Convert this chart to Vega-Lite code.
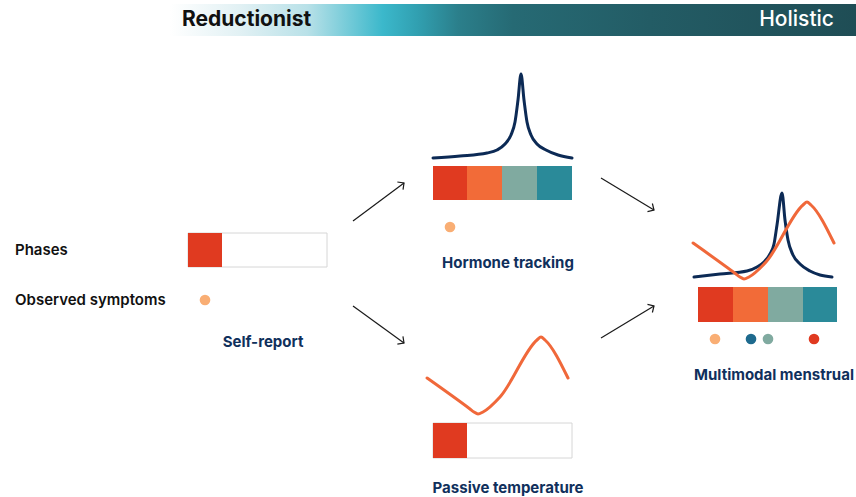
{
  "$schema": "https://vega.github.io/schema/vega-lite/v6.json",
  "width": 856,
  "height": 497,
  "padding": 0,
  "autosize": {"type": "fit", "contains": "padding"},
  "background": "white",
  "config": {"view": {"stroke": null}, "font": "Inter"},
  "resolve": {"scale": {"color": "independent"}},
  "datasets": {
    "header": [{"x": 170, "x2": 856, "y": 4, "y2": 36}],
    "frames": [
      {"panel": "Self-report", "x": 188, "x2": 327, "y": 233, "y2": 267},
      {"panel": "Passive temperature", "x": 433, "x2": 572, "y": 423, "y2": 458}
    ],
    "phases": [
      {"panel": "Self-report", "phase": "Menstrual", "x": 188, "x2": 222, "y": 233, "y2": 267},
      {"panel": "Hormone tracking", "phase": "Menstrual", "x": 433, "x2": 467, "y": 166, "y2": 200},
      {"panel": "Hormone tracking", "phase": "Follicular", "x": 467, "x2": 502, "y": 166, "y2": 200},
      {"panel": "Hormone tracking", "phase": "Ovulatory", "x": 502, "x2": 537, "y": 166, "y2": 200},
      {"panel": "Hormone tracking", "phase": "Luteal", "x": 537, "x2": 572, "y": 166, "y2": 200},
      {"panel": "Passive temperature", "phase": "Menstrual", "x": 433, "x2": 467, "y": 423, "y2": 458},
      {"panel": "Multimodal menstrual", "phase": "Menstrual", "x": 698, "x2": 733, "y": 287, "y2": 322},
      {"panel": "Multimodal menstrual", "phase": "Follicular", "x": 733, "x2": 768, "y": 287, "y2": 322},
      {"panel": "Multimodal menstrual", "phase": "Ovulatory", "x": 768, "x2": 803, "y": 287, "y2": 322},
      {"panel": "Multimodal menstrual", "phase": "Luteal", "x": 803, "x2": 837, "y": 287, "y2": 322}
    ],
    "symptoms": [
      {"panel": "Self-report", "symptom": "A", "x": 205, "y": 300},
      {"panel": "Hormone tracking", "symptom": "A", "x": 450, "y": 227},
      {"panel": "Multimodal menstrual", "symptom": "A", "x": 715, "y": 339},
      {"panel": "Multimodal menstrual", "symptom": "B", "x": 751, "y": 339},
      {"panel": "Multimodal menstrual", "symptom": "C", "x": 768, "y": 339},
      {"panel": "Multimodal menstrual", "symptom": "D", "x": 814, "y": 339}
    ],
    "curves": [
      {"series": "h1", "kind": "hormone", "x": 433, "y": 158},
      {"series": "h1", "kind": "hormone", "x": 460, "y": 156},
      {"series": "h1", "kind": "hormone", "x": 487, "y": 153},
      {"series": "h1", "kind": "hormone", "x": 497, "y": 150},
      {"series": "h1", "kind": "hormone", "x": 505, "y": 144},
      {"series": "h1", "kind": "hormone", "x": 511, "y": 135},
      {"series": "h1", "kind": "hormone", "x": 515, "y": 122},
      {"series": "h1", "kind": "hormone", "x": 518, "y": 100},
      {"series": "h1", "kind": "hormone", "x": 521, "y": 74},
      {"series": "h1", "kind": "hormone", "x": 524, "y": 100},
      {"series": "h1", "kind": "hormone", "x": 527, "y": 122},
      {"series": "h1", "kind": "hormone", "x": 531, "y": 135},
      {"series": "h1", "kind": "hormone", "x": 537, "y": 144},
      {"series": "h1", "kind": "hormone", "x": 546, "y": 150},
      {"series": "h1", "kind": "hormone", "x": 558, "y": 155},
      {"series": "h1", "kind": "hormone", "x": 572, "y": 158},
      {"series": "h2", "kind": "hormone", "x": 694, "y": 277},
      {"series": "h2", "kind": "hormone", "x": 720, "y": 274},
      {"series": "h2", "kind": "hormone", "x": 747, "y": 271},
      {"series": "h2", "kind": "hormone", "x": 757, "y": 267},
      {"series": "h2", "kind": "hormone", "x": 764, "y": 262},
      {"series": "h2", "kind": "hormone", "x": 770, "y": 254},
      {"series": "h2", "kind": "hormone", "x": 774, "y": 244},
      {"series": "h2", "kind": "hormone", "x": 777, "y": 225},
      {"series": "h2", "kind": "hormone", "x": 782, "y": 193},
      {"series": "h2", "kind": "hormone", "x": 785, "y": 220},
      {"series": "h2", "kind": "hormone", "x": 788, "y": 240},
      {"series": "h2", "kind": "hormone", "x": 793, "y": 255},
      {"series": "h2", "kind": "hormone", "x": 800, "y": 264},
      {"series": "h2", "kind": "hormone", "x": 810, "y": 271},
      {"series": "h2", "kind": "hormone", "x": 820, "y": 275},
      {"series": "h2", "kind": "hormone", "x": 832, "y": 277},
      {"series": "t1", "kind": "temperature", "x": 427, "y": 378},
      {"series": "t1", "kind": "temperature", "x": 470, "y": 409},
      {"series": "t1", "kind": "temperature", "x": 474, "y": 412},
      {"series": "t1", "kind": "temperature", "x": 478, "y": 414},
      {"series": "t1", "kind": "temperature", "x": 483, "y": 412},
      {"series": "t1", "kind": "temperature", "x": 500, "y": 397},
      {"series": "t1", "kind": "temperature", "x": 537, "y": 340},
      {"series": "t1", "kind": "temperature", "x": 541, "y": 337},
      {"series": "t1", "kind": "temperature", "x": 545, "y": 340},
      {"series": "t1", "kind": "temperature", "x": 568, "y": 378},
      {"series": "t2", "kind": "temperature", "x": 693, "y": 243},
      {"series": "t2", "kind": "temperature", "x": 736, "y": 274},
      {"series": "t2", "kind": "temperature", "x": 740, "y": 277},
      {"series": "t2", "kind": "temperature", "x": 744, "y": 279},
      {"series": "t2", "kind": "temperature", "x": 749, "y": 277},
      {"series": "t2", "kind": "temperature", "x": 766, "y": 262},
      {"series": "t2", "kind": "temperature", "x": 803, "y": 205},
      {"series": "t2", "kind": "temperature", "x": 807, "y": 202},
      {"series": "t2", "kind": "temperature", "x": 811, "y": 205},
      {"series": "t2", "kind": "temperature", "x": 834, "y": 243}
    ],
    "arrows": [
      {"x": 353, "y": 221, "x2": 404, "y2": 183},
      {"x": 353, "y": 306, "x2": 404, "y2": 343},
      {"x": 601, "y": 178, "x2": 654, "y2": 210},
      {"x": 601, "y": 338, "x2": 654, "y2": 306}
    ],
    "labels": [
      {"text": "Reductionist", "role": "headLeft", "x": 182, "y": 20},
      {"text": "Holistic", "role": "headRight", "x": 834, "y": 20},
      {"text": "Phases", "role": "legend", "x": 15, "y": 250},
      {"text": "Observed symptoms", "role": "legend", "x": 15, "y": 300},
      {"text": "Self-report", "role": "caption", "x": 263, "y": 342},
      {"text": "Hormone tracking", "role": "caption", "x": 508, "y": 263},
      {"text": "Passive temperature", "role": "caption", "x": 508, "y": 488},
      {"text": "Multimodal menstrual", "role": "caption", "x": 774, "y": 375}
    ]
  },
  "encoding": {
    "x": {"field": "x", "type": "quantitative", "scale": {"domain": [0, 856], "nice": false, "zero": false}, "axis": null},
    "y": {"field": "y", "type": "quantitative", "scale": {"domain": [0, 497], "nice": false, "zero": false, "reverse": true}, "axis": null}
  },
  "layer": [
    {
      "data": {"name": "header"},
      "mark": {"type": "rect", "color": {"gradient": "linear", "x1": 0, "y1": 0, "x2": 1, "y2": 0, "stops": [
        {"offset": 0, "color": "#ffffff"},
        {"offset": 0.1, "color": "#e2f1f4"},
        {"offset": 0.2, "color": "#b9e1e8"},
        {"offset": 0.31, "color": "#3bb8cb"},
        {"offset": 0.36, "color": "#31a0b1"},
        {"offset": 0.42, "color": "#2b7f8b"},
        {"offset": 0.5, "color": "#266a74"},
        {"offset": 0.7, "color": "#235c65"},
        {"offset": 1, "color": "#1f4d55"}
      ]}},
      "encoding": {"x2": {"field": "x2"}, "y2": {"field": "y2"}}
    },
    {
      "data": {"name": "frames"},
      "mark": {"type": "rect", "fill": "white", "stroke": "#d6d6d6", "strokeWidth": 1},
      "encoding": {"x2": {"field": "x2"}, "y2": {"field": "y2"}}
    },
    {
      "data": {"name": "phases"},
      "mark": {"type": "rect"},
      "encoding": {
        "x2": {"field": "x2"},
        "y2": {"field": "y2"},
        "color": {"field": "phase", "type": "nominal", "legend": null,
          "scale": {"domain": ["Menstrual", "Follicular", "Ovulatory", "Luteal"], "range": ["#e03a20", "#f26b38", "#80aaa0", "#2a8a99"]}}
      }
    },
    {
      "data": {"name": "symptoms"},
      "mark": {"type": "circle", "size": 113, "opacity": 1},
      "encoding": {
        "color": {"field": "symptom", "type": "nominal", "legend": null,
          "scale": {"domain": ["A", "B", "C", "D"], "range": ["#f9ae74", "#1e6a8e", "#80aaa0", "#e03a20"]}}
      }
    },
    {
      "data": {"name": "curves"},
      "transform": [{"filter": "datum.kind === 'hormone'"}],
      "mark": {"type": "line", "color": "#0c2a55", "strokeWidth": 3, "interpolate": "monotone", "strokeCap": "round", "strokeJoin": "round"},
      "encoding": {"detail": {"field": "series"}}
    },
    {
      "data": {"name": "curves"},
      "transform": [{"filter": "datum.kind === 'temperature'"}],
      "mark": {"type": "line", "color": "#f0683a", "strokeWidth": 3, "interpolate": "monotone", "strokeCap": "round", "strokeJoin": "round"},
      "encoding": {"detail": {"field": "series"}}
    },
    {
      "data": {"name": "arrows"},
      "mark": {"type": "rule", "color": "#1a1a1a", "strokeWidth": 1.2},
      "encoding": {"x2": {"field": "x2"}, "y2": {"field": "y2"}}
    },
    {
      "data": {"name": "arrows"},
      "transform": [{"calculate": "atan2(datum.y2 - datum.y, datum.x2 - datum.x) * 180 / PI", "as": "heading"}],
      "mark": {"type": "point", "shape": "M-1,-1L0,0L-1,1", "filled": false, "stroke": "#1a1a1a", "strokeWidth": 1.2, "size": 90, "opacity": 1},
      "encoding": {
        "x": {"field": "x2", "type": "quantitative"},
        "y": {"field": "y2", "type": "quantitative"},
        "angle": {"field": "heading", "type": "quantitative", "scale": null}
      }
    },
    {
      "data": {"name": "labels"},
      "transform": [{"filter": "datum.role === 'headLeft'"}],
      "mark": {"type": "text", "align": "left", "baseline": "middle", "fontSize": 21, "fontWeight": "bold", "color": "#111111", "font": "Inter"},
      "encoding": {"text": {"field": "text"}}
    },
    {
      "data": {"name": "labels"},
      "transform": [{"filter": "datum.role === 'headRight'"}],
      "mark": {"type": "text", "align": "right", "baseline": "middle", "fontSize": 21, "fontWeight": 500, "color": "#ffffff", "font": "Inter"},
      "encoding": {"text": {"field": "text"}}
    },
    {
      "data": {"name": "labels"},
      "transform": [{"filter": "datum.role === 'legend'"}],
      "mark": {"type": "text", "align": "left", "baseline": "middle", "fontSize": 15, "fontWeight": 600, "color": "#111111", "font": "Inter"},
      "encoding": {"text": {"field": "text"}}
    },
    {
      "data": {"name": "labels"},
      "transform": [{"filter": "datum.role === 'caption'"}],
      "mark": {"type": "text", "align": "center", "baseline": "middle", "fontSize": 15, "fontWeight": "bold", "color": "#10305c", "font": "Inter"},
      "encoding": {"text": {"field": "text"}}
    }
  ]
}
